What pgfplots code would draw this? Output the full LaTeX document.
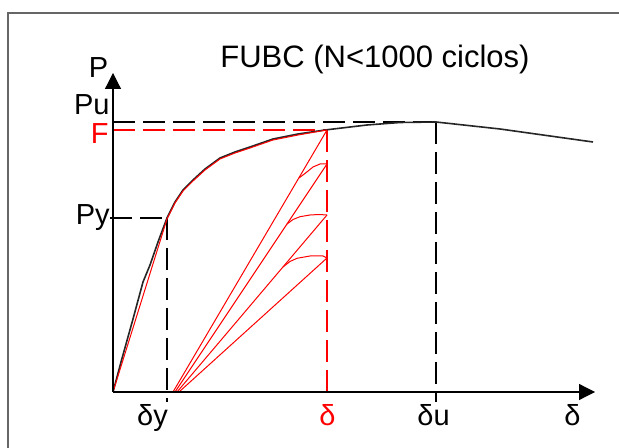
\documentclass[border=0pt]{standalone}
\usepackage{pgfplots}
\pgfplotsset{compat=1.18}
\usepackage{fontspec}
\setmainfont{Liberation Sans}
\usetikzlibrary{arrows.meta}
\begin{document}
\begin{tikzpicture}
% units: 1 = 1 px of the reference, origin at the axes' corner
\def\lbl{\fontsize{14.5}{17}\selectfont}
\tikzset{
    dsh/.style={dash pattern=on 11pt off 4pt, line width=0.6pt},
    lb/.style={font=\lbl, inner sep=0pt},
}
\begin{axis}[
    name=ax,
    width=309.5pt, height=224pt, scale only axis,
    xmin=-113, xmax=506, ymin=-56, ymax=392,
    hide axis, clip=false,
    every axis plot/.append style={no markers},
]
% frame
\draw[gray!80!black, line width=0.8pt] (axis cs:-105,-56) -- (axis cs:-105,379) -- (axis cs:506,379);

% reference lines
\addplot[black, dsh] coordinates {(0,270) (323,270)};
\addplot[red, dsh] coordinates {(0,262) (214,262)};
\addplot[black, dsh] coordinates {(-3,174) (54,174)};
\addplot[black, dsh] coordinates {(54,174) (54,-10)};
\addplot[black, dsh] coordinates {(323,270) (323,-10)};
\addplot[red, dsh] coordinates {(214,262) (214,-5)};

% envelope (black)
\addplot[black!85, line width=0.8pt] coordinates {
  (0,0) (8,30) (20,73) (30,110) (37,127) (45,150) (54,174) (62,190) (70,202)
  (80,212) (92,223) (107,234) (122,240) (137,245) (160,253) (185,258) (212,262)
  (254,267) (287,269.5) (323,270) (387,263) (480,250)
};
% loading curve to F (red)
\addplot[red, line width=0.5pt] coordinates {
  (0,0) (54,173) (62,189) (70,201) (80,211) (92,222) (107,233) (122,239)
  (137,244) (160,252) (185,257) (214,262)
};
% unloading / reloading cycles
\addplot[red, line width=0.5pt] coordinates {(60,0) (214,262)};
\addplot[red, line width=0.5pt] coordinates {(186,214) (192,218.5) (200,225) (207,228) (214,228)};
\addplot[red, line width=0.5pt] coordinates {(62,0) (214,228)};
\addplot[red, line width=0.5pt] coordinates {(174,168) (180,172.5) (187,175.3) (197,177) (206,177.5) (214,177)};
\addplot[red, line width=0.5pt] coordinates {(64,0) (214,177)};
\addplot[red, line width=0.5pt] coordinates {(170,125) (177,130.5) (184,133.7) (197,136) (210,136) (214,134)};
\addplot[red, line width=0.5pt] coordinates {(66,0) (214,134)};

% axes
\draw[black, line width=0.6pt, -{Triangle[length=8pt,width=8pt]}] (axis cs:0,0) -- (axis cs:0,319);
\draw[black, line width=0.6pt, -{Triangle[length=8pt,width=8pt]}] (axis cs:0,0) -- (axis cs:482,0);

% labels
\node[lb, anchor=base] at (axis cs:262,324) {\fontsize{15.5}{18}\selectfont FUBC (N<1000 ciclos)};
\node[lb, anchor=base] at (axis cs:-14.5,314) {P};
\node[lb, anchor=base east] at (axis cs:-3,277) {Pu};
\node[lb, anchor=base east, text=red] at (axis cs:-4,248.5) {F};
\node[lb, anchor=base east] at (axis cs:-3,167) {Py};
\node[lb, anchor=base] at (axis cs:39.5,-33) {δy};
\node[lb, anchor=base, text=red] at (axis cs:214.5,-33) {δ};
\node[lb, anchor=base] at (axis cs:320.5,-33) {δu};
\node[lb, anchor=base] at (axis cs:459.5,-33) {δ};
\end{axis}
\pgfresetboundingbox
\path (ax.south west) rectangle (ax.north east);
\end{tikzpicture}
\end{document}
